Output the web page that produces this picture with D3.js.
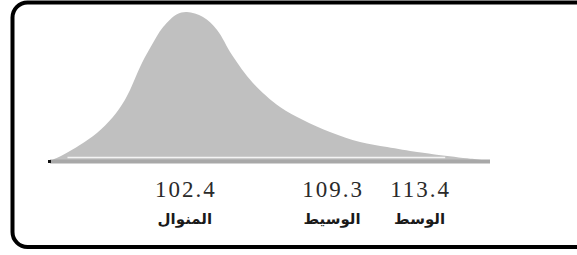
<!DOCTYPE html>
<html>
<head>
<meta charset="utf-8">
<script src="https://cdn.jsdelivr.net/npm/d3@7/dist/d3.min.js"></script>
<style>
  body { margin: 0; background: #fff; }
  svg { display: block; }
</style>
</head>
<body>
<div id="chart"></div>
<script>
// curve: x in data units, height relative to the peak
var curveX = [96.08, 96.68, 97.48, 98.28, 99.03, 99.50, 99.83, 100.30, 100.77, 101.38,
              102.03, 102.50, 103.25, 103.91, 104.61, 105.59, 106.86, 107.94, 109.20,
              110.61, 111.88, 113.28, 114.03, 115.63, 116.70];
var curveY = [0, 0.04, 0.107, 0.188, 0.295, 0.389, 0.477, 0.631, 0.758, 0.899,
              0.985, 1.0, 0.966, 0.879, 0.711, 0.523, 0.362, 0.275, 0.195,
              0.128, 0.094, 0.060, 0.046, 0.018, 0];

var statValues = [102.4, 109.3, 113.4];
var statLabels = ["102.4", "109.3", "113.4"];
var statNames = ["المنوال", "الوسيط", "الوسط"];

var width = 577, height = 255;

var svg = d3.select("#chart").append("svg")
    .attr("width", width)
    .attr("height", height);

// frame, right side runs off the picture
svg.append("rect")
    .attr("x", 12.5)
    .attr("y", 2.5)
    .attr("width", 620)
    .attr("height", 244.5)
    .attr("rx", 15)
    .attr("fill", "none")
    .attr("stroke", "#000")
    .attr("stroke-width", 4);

var x = d3.scaleLinear()
    .domain([d3.min(curveX), d3.max(curveX)])
    .range([50, 490]);

var y = d3.scaleLinear()
    .domain([0, 1])
    .range([161, 12]);

var pts = curveX.map(function (d, i) { return {x: d, y: curveY[i]}; });

var area = d3.area()
    .x(function (d) { return x(d.x); })
    .y0(y(0))
    .y1(function (d) { return y(d.y); })
    .curve(d3.curveCatmullRom.alpha(0.5));

svg.append("path")
    .datum(pts)
    .attr("d", area)
    .attr("fill", "#c0c0c0");

// baseline
svg.append("line")
    .attr("x1", x(curveX[0])).attr("x2", x(curveX[curveX.length - 1]))
    .attr("y1", y(0) + 0.5).attr("y2", y(0) + 0.5)
    .attr("stroke", "#a8a8a8")
    .attr("stroke-width", 4);

svg.append("line")
    .attr("x1", x(96.9)).attr("x2", x(114.6))
    .attr("y1", y(0) - 3.5).attr("y2", y(0) - 3.5)
    .attr("stroke", "#f4f4f4")
    .attr("stroke-width", 1.5);

svg.append("rect")
    .attr("x", x(curveX[0]) - 2)
    .attr("y", y(0) - 1)
    .attr("width", 3)
    .attr("height", 3)
    .attr("fill", "#111");

var labels = svg.append("g");

labels.selectAll("text.val")
    .data(statValues)
    .enter().append("text")
    .attr("class", "val")
    .attr("x", function (d) { return x(d) + 1; })
    .attr("y", 197)
    .attr("text-anchor", "middle")
    .attr("font-family", "Liberation Serif, serif")
    .attr("font-size", 23)
    .attr("letter-spacing", 2)
    .attr("fill", "#2a2a2a")
    .text(function (d, i) { return statLabels[i]; });

labels.selectAll("text.name")
    .data(statValues)
    .enter().append("text")
    .attr("class", "name")
    .attr("x", function (d) { return x(d); })
    .attr("y", 224)
    .attr("text-anchor", "middle")
    .attr("direction", "rtl")
    .attr("font-family", "DejaVu Sans, sans-serif")
    .attr("font-weight", "bold")
    .attr("font-size", 15)
    .attr("fill", "#1a1a1a")
    .text(function (d, i) { return statNames[i]; });
</script>
</body>
</html>
